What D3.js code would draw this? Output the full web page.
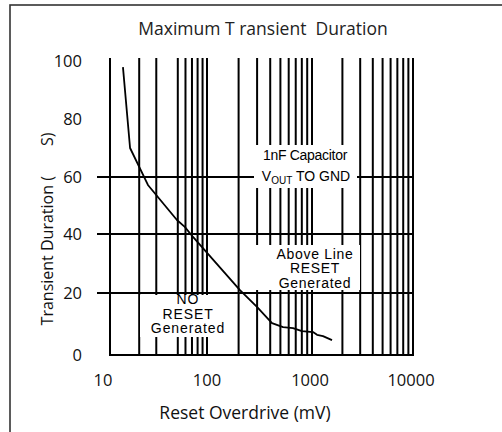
<!DOCTYPE html>
<html>
<head>
<meta charset="utf-8">
<script src="https://cdn.jsdelivr.net/npm/d3@7"></script>
<style>
  html, body { margin: 0; padding: 0; background: #fff; }
  svg { display: block; }
  text { white-space: pre; }
  .tick-label { font-family: "Open Sans", sans-serif; font-size: 16.5px; fill: #111; }
  .box-label { font-family: "Liberation Sans", Arial, sans-serif; font-size: 14px; fill: #000; }
</style>
</head>
<body>
<svg id="chart" width="502" height="432"></svg>
<script>
// Reset overdrive (mV) vs. maximum transient duration (µs)
const overdrive = [13.6, 16.1, 24.6, 49, 59, 71.7, 206, 299, 416, 530, 659, 803, 1023, 1121, 1285, 1578];
const duration  = [97.9, 70.0, 57.2, 44.9, 42.5, 39.0, 21.0, 15.5, 10.3, 9.0, 8.7, 7.7, 7.4, 6.5, 6.1, 4.8];

const xTickValues = [10, 100, 1000, 10000];
const xTickLabels = ["10", "100", "1000", "10000"];
const xGridValues = [20, 30, 50, 60, 70, 80, 90, 100,
                     200, 300, 400, 500, 600, 700, 800, 900, 1000,
                     2000, 3000, 4000, 5000, 6000, 7000, 8000, 9000, 10000];
const yTickValues = [0, 20, 40, 60, 80, 100];
const yGridValues = [20, 40, 60];

const titleText = "Maximum T ransient  Duration";
const xTitle = "Reset Overdrive (mV)";
const yTitleHead = "Transient Duration (";
const yTitleTail = "S)";
const aboveLines = ["Above Line", "RESET", "Generated"];
const noResetLines = ["NO", "RESET", "Generated"];

const svg = d3.select("#chart");

// outer frame
svg.append("rect")
  .attr("x", 10).attr("y", 5).attr("width", 520).attr("height", 460)
  .attr("fill", "none").attr("stroke", "#333").attr("stroke-width", 1.6);

// printed axes are slightly uneven per decade, so use piecewise domains
const x = d3.scaleLog().domain([10, 100, 1000, 10000]).range([110, 207, 312, 413]);
const y = d3.scaleLinear().domain([0, 20, 40, 60, 80, 100]).range([355, 293, 234, 177, 119, 61]);

const g = svg.append("g");

// vertical grid lines
g.selectAll("line.vg")
  .data([10].concat(xGridValues))
  .join("line")
  .attr("x1", d => x(d)).attr("x2", d => x(d))
  .attr("y1", y(100) - 3).attr("y2", y(0) + 1)
  .attr("stroke", "#000").attr("stroke-width", 2);

// horizontal grid lines
g.selectAll("line.hg")
  .data(yGridValues)
  .join("line")
  .attr("x1", 97).attr("x2", x(10000))
  .attr("y1", d => y(d)).attr("y2", d => y(d))
  .attr("stroke", "#000").attr("stroke-width", 2);

// zero baseline
g.append("line")
  .attr("x1", x(10) - 1).attr("x2", x(10000))
  .attr("y1", y(0)).attr("y2", y(0))
  .attr("stroke", "#000").attr("stroke-width", 2);

// annotation backgrounds
const boxes = [
  { x0: 254, x1: 357, y0: 145, y1: 188 },
  { x0: 255, x1: 360, y0: 245, y1: 290 },
  { x0: 140, x1: 237, y0: 295, y1: 337 }
];
g.selectAll("rect.bg")
  .data(boxes)
  .join("rect")
  .attr("x", d => d.x0).attr("y", d => d.y0)
  .attr("width", d => d.x1 - d.x0).attr("height", d => d.y1 - d.y0)
  .attr("fill", "#fff");

// curve
const pts = overdrive.map((v, i) => [v, duration[i]]);
g.append("path")
  .datum(pts)
  .attr("d", d3.line().x(d => x(d[0])).y(d => y(d[1])))
  .attr("fill", "none").attr("stroke", "#000").attr("stroke-width", 1.8)
  .attr("stroke-linejoin", "round");

// x tick labels
const xNudge = [-7, 0, -2, -2];
svg.selectAll("text.xt")
  .data(xTickValues)
  .join("text")
  .attr("class", "tick-label")
  .attr("x", (d, i) => x(d) + xNudge[i]).attr("y", 386)
  .attr("text-anchor", "middle")
  .text((d, i) => xTickLabels[i]);

// y tick labels
svg.selectAll("text.yt")
  .data(yTickValues)
  .join("text")
  .attr("class", "tick-label")
  .attr("x", 82).attr("y", d => y(d) + 6)
  .attr("text-anchor", "end")
  .text(d => d);

// title and axis titles
svg.append("text")
  .attr("x", 263).attr("y", 35)
  .attr("text-anchor", "middle")
  .attr("font-family", "Open Sans, sans-serif").attr("font-size", 17.5)
  .attr("fill", "#222")
  .text(titleText);

svg.append("text")
  .attr("x", 245).attr("y", 419)
  .attr("text-anchor", "middle")
  .attr("font-family", "Open Sans, sans-serif").attr("font-size", 17.5)
  .attr("fill", "#111")
  .text(xTitle);

const yt = svg.append("text")
  .attr("transform", "translate(53,229) rotate(-90)")
  .attr("text-anchor", "middle")
  .attr("font-family", "Open Sans, sans-serif").attr("font-size", 16)
  .attr("fill", "#111");
yt.append("tspan").text(yTitleHead);
yt.append("tspan").attr("dx", 30).text(yTitleTail);

// annotation: test condition
const cond = svg.append("text").attr("class", "box-label").attr("text-anchor", "middle")
  .attr("font-size", 15);
cond.append("tspan").attr("x", 305).attr("y", 160).attr("letter-spacing", -0.3).text("1nF Capacitor");
cond.append("tspan").attr("x", 306).attr("y", 181).text("V");
cond.append("tspan").attr("font-size", 10).attr("dy", 3).text("OUT");
cond.append("tspan").attr("dy", -3).text(" TO GND");

// multi-line region labels, one text element each
function block(lines, cx, y0, step, size, spacing) {
  const t = svg.append("text").attr("class", "box-label").attr("text-anchor", "middle")
    .attr("font-size", size).attr("letter-spacing", spacing);
  t.selectAll("tspan")
    .data(lines)
    .join("tspan")
    .attr("x", cx)
    .attr("y", (d, i) => y0 + i * step)
    .text(d => d);
}
block(aboveLines, 315, 258.5, 14.5, 13, 0.7);
block(noResetLines, 188, 304, 14.6, 12.5, 0.9);
</script>
</body>
</html>
